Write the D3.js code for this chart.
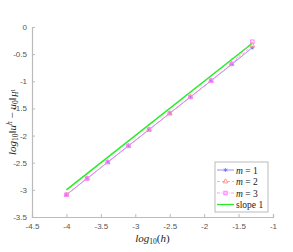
<!DOCTYPE html>
<html>
<head>
<meta charset="utf-8">
<script src="https://cdn.jsdelivr.net/npm/d3@7"></script>
<style>
  body { margin: 0; background: #fff; }
  .tick text { font-family: "Liberation Sans", Arial, sans-serif; font-size: 8px; fill: #555; }
  .math { font-family: "Liberation Serif", "DejaVu Serif", serif; fill: #222; }
</style>
</head>
<body>
<div id="chart"></div>
<script>
// log10(h) values and log10 errors
let logH = [-4, -3.7, -3.4, -3.1, -2.8, -2.5, -2.2, -1.9, -1.6, -1.3];
let errM1 = [-3.09, -2.79, -2.49, -2.19, -1.89, -1.59, -1.29, -0.99, -0.69, -0.38];
let errM2 = [-3.09, -2.79, -2.49, -2.19, -1.89, -1.59, -1.29, -0.99, -0.68, -0.34];
let errM3 = [-3.09, -2.79, -2.49, -2.19, -1.89, -1.59, -1.29, -0.99, -0.68, -0.27];
let slopeX = [-4, -1.3];
let slopeY = [-3, -0.3];

let xTicks = [-4.5, -4, -3.5, -3, -2.5, -2, -1.5, -1];
let yTicks = [-3.5, -3, -2.5, -2, -1.5, -1, -0.5, 0];

let svgWidth = 293;
let svgHeight = 252;

let margin = { top: 27, right: 20, bottom: 35, left: 32 };
let chartWidth = svgWidth - margin.left - margin.right;
let chartHeight = svgHeight - margin.top - margin.bottom;

let x = d3.scaleLinear().domain([-4.5, -1]).range([0, chartWidth]);
let y = d3.scaleLinear().domain([-3.5, 0]).range([chartHeight, 0]);

let svg = d3.select("#chart")
  .append("svg")
  .attr("width", svgWidth)
  .attr("height", svgHeight);

let g = svg.append("g")
  .attr("transform", "translate(" + margin.left + "," + margin.top + ")");

// axes, ticks pointing inward
let xAxis = g.append("g")
  .attr("transform", "translate(0," + chartHeight + ")")
  .call(d3.axisBottom(x).tickValues(xTicks).tickSize(-3).tickPadding(6).tickFormat(d3.format("")));
let yAxis = g.append("g")
  .call(d3.axisLeft(y).tickValues(yTicks).tickSize(-3).tickPadding(5).tickFormat(d3.format("")));

[xAxis, yAxis].forEach(a => {
  a.select(".domain").attr("stroke", "#bbb").attr("stroke-width", 1.2);
  a.selectAll(".tick line").attr("stroke", "#bbb");
  a.selectAll(".tick text").text(d => String(d));
});

let series = [
  { name: "1", data: errM1, color: "#7777ff", dash: null, marker: "star" },
  { name: "2", data: errM2, color: "#ff9a9a", dash: "3,2", marker: "tri" },
  { name: "3", data: errM3, color: "#ff80ff", dash: "3,1.5,1,1.5", marker: "sq" }
];

let line = d3.line()
  .x(d => x(d[0]))
  .y(d => y(d[1]));

// slope 1 reference
g.append("path")
  .datum(d3.zip(slopeX, slopeY))
  .attr("d", line)
  .attr("fill", "none")
  .attr("stroke", "#22ee22")
  .attr("stroke-width", 1.5);

function drawMarker(sel, type, color) {
  if (type === "star") {
    sel.append("path")
      .attr("d", "M-1.8,0H1.8M0,-1.8V1.8M-1.3,-1.3L1.3,1.3M-1.3,1.3L1.3,-1.3")
      .attr("stroke", color).attr("stroke-width", 1);
  } else if (type === "tri") {
    sel.append("path")
      .attr("d", d3.symbol().type(d3.symbolTriangle).size(10)())
      .attr("fill", "none").attr("stroke", color).attr("stroke-width", 1);
  } else {
    sel.append("rect")
      .attr("x", -1.7).attr("y", -1.7).attr("width", 3.4).attr("height", 3.4)
      .attr("fill", "none").attr("stroke", color).attr("stroke-width", 1);
  }
}

series.forEach(s => {
  let pts = d3.zip(logH, s.data);
  g.append("path")
    .datum(pts)
    .attr("d", line)
    .attr("fill", "none")
    .attr("stroke", s.color)
    .attr("stroke-width", 0.8)
    .attr("stroke-dasharray", s.dash);

  g.selectAll(".m" + s.name)
    .data(pts)
    .enter()
    .append("g")
    .attr("transform", d => "translate(" + x(d[0]) + "," + y(d[1]) + ")")
    .each(function() { drawMarker(d3.select(this), s.marker, s.color); });
});

// legend
let legend = svg.append("g").attr("transform", "translate(215,162)");
legend.append("rect")
  .attr("width", 53).attr("height", 50)
  .attr("fill", "#fff").attr("stroke", "#aaa").attr("stroke-width", 0.8);

let legendItems = series.map(s => ({ label: "m", num: s.name, color: s.color, dash: s.dash, marker: s.marker }))
  .concat([{ label: "slope 1", color: "#22ee22", dash: null, marker: null }]);

legendItems.forEach((it, i) => {
  let row = legend.append("g").attr("transform", "translate(0," + (8 + i * 11.5) + ")");
  row.append("line")
    .attr("x1", 2).attr("x2", 19).attr("y1", 0).attr("y2", 0)
    .attr("stroke", it.color)
    .attr("stroke-width", it.marker ? 0.8 : 1.3)
    .attr("stroke-dasharray", it.dash);
  if (it.marker) {
    drawMarker(row.append("g").attr("transform", "translate(10.5,0)"), it.marker, it.color);
    let t = row.append("text").attr("class", "math").attr("x", 21).attr("y", 3.5).attr("font-size", 9.5);
    t.append("tspan").style("font-style", "italic").text("m");
    t.append("tspan").text(" = " + it.num);
  } else {
    row.append("text").attr("class", "math").attr("x", 21).attr("y", 3.5)
      .attr("font-size", 9.5).text(it.label);
  }
});

// x label: log10(h)
let xl = svg.append("text").attr("class", "math")
  .attr("x", margin.left + chartWidth / 2).attr("y", 242)
  .attr("text-anchor", "middle").attr("font-size", 11);
xl.append("tspan").style("font-style", "italic").text("log");
xl.append("tspan").attr("font-size", 7.5).attr("dy", 2).text("10");
xl.append("tspan").attr("dy", -2).text("(");
xl.append("tspan").style("font-style", "italic").text("h");
xl.append("tspan").text(")");

// y label: log10 ||u^h - u0||_{H^1}
let yl = svg.append("text").attr("class", "math")
  .attr("transform", "translate(16," + (margin.top + chartHeight / 2) + ") rotate(-90)")
  .attr("text-anchor", "middle").attr("font-size", 11);
yl.append("tspan").style("font-style", "italic").text("log");
yl.append("tspan").attr("font-size", 7.5).attr("dy", 2).text("10");
yl.append("tspan").attr("dy", -2).text("\u2016");
yl.append("tspan").style("font-style", "italic").text("u");
yl.append("tspan").style("font-style", "italic").attr("font-size", 7.5).attr("dy", -4).text("h");
yl.append("tspan").attr("dy", 4).text(" \u2212 ");
yl.append("tspan").style("font-style", "italic").text("u");
yl.append("tspan").attr("font-size", 7.5).attr("dy", 2).text("0");
yl.append("tspan").attr("dy", -2).text("\u2016");
yl.append("tspan").style("font-style", "italic").attr("font-size", 7.5).attr("dy", 2).text("H");
yl.append("tspan").attr("font-size", 5.5).attr("dy", -3).text("1");
</script>
</body>
</html>
